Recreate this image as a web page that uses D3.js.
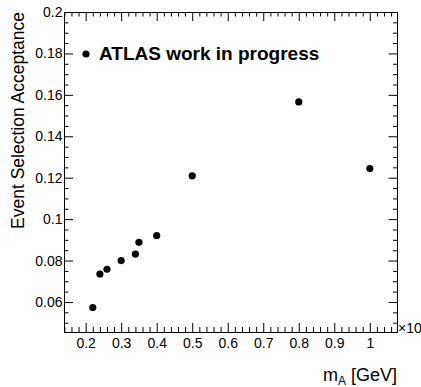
<!DOCTYPE html>
<html>
<head>
<meta charset="utf-8">
<script src="https://cdn.jsdelivr.net/npm/d3@7"></script>
<style>
  body { margin: 0; background: #fff; }
  text { font-family: "Liberation Sans", Arial, Helvetica, sans-serif; fill: #000; }
</style>
</head>
<body>
<div id="chart"></div>
<script>
// signal mass points (x10^3 GeV) and the acceptance
const massValues = [0.22, 0.24, 0.26, 0.30, 0.34, 0.35, 0.40, 0.50, 0.80, 1.00];
const acceptanceValues = [0.0573, 0.0735, 0.0758, 0.0800, 0.0831, 0.0888, 0.0921, 0.1209, 0.1566, 0.1244];

const xTickValues = [0.2, 0.3, 0.4, 0.5, 0.6, 0.7, 0.8, 0.9, 1.0];
const xTickLabels = ['0.2', '0.3', '0.4', '0.5', '0.6', '0.7', '0.8', '0.9', '1'];
const yTickValues = [0.06, 0.08, 0.10, 0.12, 0.14, 0.16, 0.18, 0.20];
const yTickLabels = ['0.06', '0.08', '0.1', '0.12', '0.14', '0.16', '0.18', '0.2'];

const width = 421, height = 387;
const frame = {left: 64, right: 397.5, top: 12, bottom: 332};

const svg = d3.select('#chart').append('svg')
  .attr('width', width)
  .attr('height', height);

const x = d3.scaleLinear().domain([0.139, 1.078]).range([frame.left, frame.right]);
const y = d3.scaleLinear().domain([0.0455, 0.2]).range([frame.bottom, frame.top]);

// frame as four thin filled bars
const fr = svg.append('g').attr('fill', '#000');
fr.append('rect').attr('x', 64).attr('y', 12).attr('width', 334).attr('height', 1);
fr.append('rect').attr('x', 64).attr('y', 332).attr('width', 334).attr('height', 1);
fr.append('rect').attr('x', 64).attr('y', 12).attr('width', 1).attr('height', 321);
fr.append('rect').attr('x', 397).attr('y', 12).attr('width', 1).attr('height', 321);

// minor tick positions
const xMinor = d3.range(0.14, 1.078, 0.02).filter(v => Math.abs(v * 10 - Math.round(v * 10)) > 1e-6);
const yMinor = d3.range(0.05, 0.2, 0.005).filter(v => Math.abs(v * 50 - Math.round(v * 50)) > 1e-6);

function drawAxis(axis, tx, ty) {
  const g = svg.append('g')
    .attr('transform', `translate(${tx}, ${ty})`)
    .call(axis);
  g.select('.domain').remove();
  g.selectAll('line').attr('stroke', '#000').attr('stroke-width', 1);
  g.selectAll('text').style('font-size', '14px').attr('fill', '#000');
  return g;
}

// bottom / top axes, ticks pointing into the frame
drawAxis(d3.axisBottom(x).tickValues(xTickValues).tickSize(-9).tickPadding(6)
  .tickFormat((d, i) => xTickLabels[i]), 0, frame.bottom);
drawAxis(d3.axisBottom(x).tickValues(xMinor).tickSize(-5).tickFormat(''), 0, frame.bottom);
drawAxis(d3.axisTop(x).tickValues(xTickValues).tickSize(-9).tickFormat(''), 0, frame.top);
drawAxis(d3.axisTop(x).tickValues(xMinor).tickSize(-4.5).tickFormat(''), 0, frame.top);

// left / right axes
drawAxis(d3.axisLeft(y).tickValues(yTickValues).tickSize(-9).tickPadding(1.5)
  .tickFormat((d, i) => yTickLabels[i]), frame.left, 0);
drawAxis(d3.axisLeft(y).tickValues(yMinor).tickSize(-4.5).tickFormat(''), frame.left, 0);
drawAxis(d3.axisRight(y).tickValues(yTickValues).tickSize(-9).tickFormat(''), frame.right, 0);
drawAxis(d3.axisRight(y).tickValues(yMinor).tickSize(-4.5).tickFormat(''), frame.right, 0);

// data points
svg.append('g').selectAll('circle')
  .data(massValues)
  .enter()
  .append('circle')
  .attr('cx', d => x(d))
  .attr('cy', (d, i) => y(acceptanceValues[i]))
  .attr('r', 3.6)
  .attr('fill', '#000');

// legend
svg.append('circle').attr('cx', 86).attr('cy', 54).attr('r', 3.6).attr('fill', '#000');
svg.append('text')
  .attr('x', 99).attr('y', 60)
  .style('font-size', '19px').style('font-weight', 'bold')
  .text('ATLAS work in progress');

// axis titles
svg.append('text')
  .attr('transform', `translate(24, ${frame.top}) rotate(-90)`)
  .attr('text-anchor', 'end')
  .style('font-size', '17.5px')
  .text('Event Selection Acceptance');

const xTitle = svg.append('text')
  .attr('x', 397).attr('y', 381)
  .attr('text-anchor', 'end')
  .style('font-size', '18px');
xTitle.append('tspan').text('m');
xTitle.append('tspan').attr('dy', 4).style('font-size', '12px').text('A');
xTitle.append('tspan').attr('dy', -4).text(' [GeV]');

// axis multiplier, cut by the canvas edge as in the original
svg.append('text')
  .attr('x', 398).attr('y', 333)
  .style('font-size', '14px')
  .text('\u00d710');
</script>
</body>
</html>
